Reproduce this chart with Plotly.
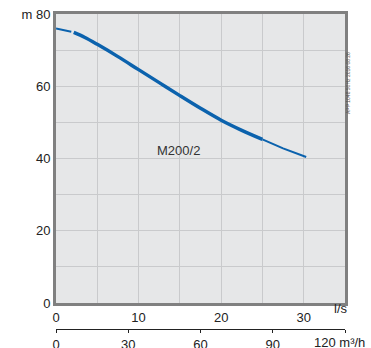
import plotly.graph_objects as go

# Pump curve M200/2 : head (m) vs flow (l/s)
flow_start = [0.0, 1.0, 1.85]
head_start = [76.0, 75.6, 75.1]

flow_main = [2.15, 3.5, 5.0, 7.5, 10.0, 12.5, 15.0, 17.5, 20.0, 22.5, 25.0]
head_main = [74.9, 73.5, 71.6, 68.2, 64.6, 61.0, 57.4, 53.9, 50.6, 47.8, 45.3]

flow_end = [25.0, 27.5, 30.3]
head_end = [45.3, 42.8, 40.4]

x_ticks_ls = [0, 5, 10, 15, 20, 25, 30, 35]
x_labels_ls = ["0", "", "10", "", "20", "", "30", ""]
y_ticks = [0, 10, 20, 30, 40, 50, 60, 70, 80]
y_labels = ["0", "", "20", "", "40", "", "60", "", "m 80"]
x_ticks_m3h = [0, 30, 60, 90, 120]
x_labels_m3h = ["0", "30", "60", "90", ""]
last_m3h_label = "120"

curve_label = "M200/2"
stamp = "APP 1048 50Hz 2016 08 26"

blue = "#0b62ad"
font = dict(family="Liberation Sans, Arial, sans-serif", size=13, color="#222")

fig = go.Figure()
fig.add_trace(go.Scatter(x=flow_start, y=head_start, mode="lines",
                         line=dict(color=blue, width=2), hoverinfo="skip"))
fig.add_trace(go.Scatter(x=flow_main, y=head_main, mode="lines",
                         line=dict(color=blue, width=3.5, shape="spline"), hoverinfo="skip"))
fig.add_trace(go.Scatter(x=flow_end, y=head_end, mode="lines",
                         line=dict(color=blue, width=2), hoverinfo="skip"))

fig.update_layout(
    width=371, height=348,
    margin=dict(l=56, r=26, t=14, b=19, autoexpand=False),
    paper_bgcolor="white",
    plot_bgcolor="#e6e7e8",
    showlegend=False,
    font=font,
    xaxis=dict(range=[0, 35], tickvals=x_ticks_ls, ticktext=x_labels_ls,
               showgrid=True, gridcolor="#c9cacc", gridwidth=1,
               showline=True, linecolor="#808080", linewidth=3, mirror=True,
               ticks="", zeroline=False, anchor="y", fixedrange=True,
               automargin=False, ticklabeloverflow="allow"),
    yaxis=dict(range=[0, 80], tickvals=y_ticks, ticktext=y_labels,
               domain=[26 / 315, 1],
               showgrid=True, gridcolor="#c9cacc", gridwidth=1,
               showline=True, linecolor="#808080", linewidth=3, mirror=True,
               ticks="", zeroline=False, fixedrange=True, automargin=False,
               ticklabeloverflow="allow"),
    xaxis2=dict(range=[0, 120], domain=[0, 120 / 126], overlaying="x",
                anchor="free", position=0, side="bottom",
                tickvals=x_ticks_m3h, ticktext=x_labels_m3h,
                showgrid=False, showline=True, linecolor="#222", linewidth=1,
                ticks="outside", ticklen=3, tickcolor="#222", zeroline=False,
                automargin=False, ticklabeloverflow="allow", fixedrange=True),
)

# invisible trace to activate xaxis2
fig.add_trace(go.Scatter(x=[0], y=[0], xaxis="x2", yaxis="y", mode="markers",
                         marker=dict(opacity=0), hoverinfo="skip"))

fig.add_annotation(x=14.8, y=42.1, xref="x", yref="y", text=curve_label,
                   showarrow=False, font=dict(size=13, color="#333"))
fig.add_annotation(x=1.017, y=0.035, xref="paper", yref="paper", text="l/s",
                   showarrow=False, font=dict(size=13, color="#222"))
fig.add_annotation(x=0.889, y=-0.044, xref="paper", yref="paper",
                   text=last_m3h_label + " m\u00b3/h", xanchor="left",
                   yanchor="middle", borderpad=0,
                   showarrow=False, font=dict(size=13, color="#222"))
fig.add_annotation(x=1.028, y=0.886, xref="paper", yref="paper", text=stamp,
                   textangle=-90, showarrow=False,
                   font=dict(size=5, color="#555"))

fig.write_html(
    "out.html",
    config={"displayModeBar": False, "staticPlot": True},
    post_script="document.body.style.margin='0';document.body.style.overflow='hidden';",
)
